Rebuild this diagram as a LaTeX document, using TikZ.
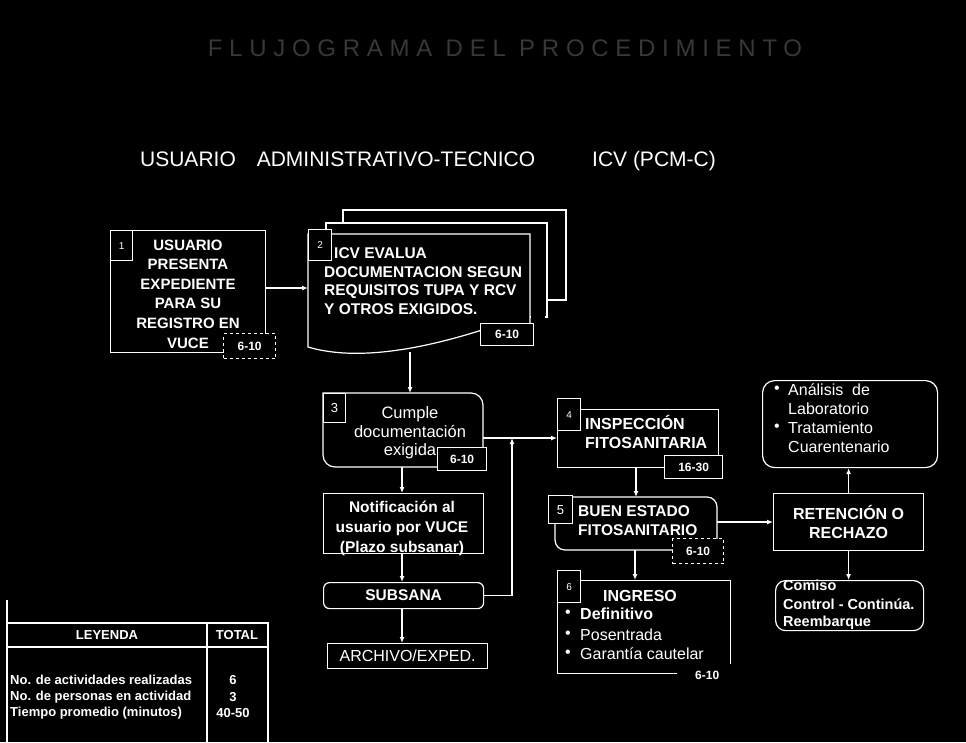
\documentclass[tikz,border=0pt]{standalone}
\usepackage{fontspec}
\setmainfont{Liberation Sans}
\usetikzlibrary{arrows.meta}
\tikzset{
  ln/.style={draw=white, line width=1.2pt},
  area/.style={inner sep=0pt, anchor=north west},
  numbox/.style={draw=white, fill=black, line width=1.2pt, text=white, inner sep=0pt, anchor=north west, font=\fontsize{13}{13}\selectfont},
  tbox/.style={draw=white, fill=black, line width=1.2pt, text=white, inner sep=0pt, anchor=north west, font=\bfseries\fontsize{12}{12}\selectfont},
  wtxt/.style={text=white, inner sep=0pt},
  bt/.style={wtxt, font=\bfseries\fontsize{15}{19}\selectfont},
  rt/.style={wtxt, font=\fontsize{16}{19}\selectfont},
  hdr/.style={wtxt, anchor=base, font=\fontsize{21}{21}\selectfont},
  lg/.style={wtxt, font=\bfseries\fontsize{13}{13}\selectfont},
  arr/.style={draw=white, line width=1.2pt, -{Latex[length=6pt,width=5pt]}},
}
\begin{document}
\begin{tikzpicture}[x=1pt,y=-1pt]
\fill[black] (0,0) rectangle (966,742);
\useasboundingbox (0,0) rectangle (966,742);

% title (faint)
\node[wtxt, text=white!22!black, font=\fontsize{24}{24}\selectfont\addfontfeatures{LetterSpace=28}] (title) at (505,48) {FLUJOGRAMA DEL PROCEDIMIENTO};

% headers
\node[hdr] (h1) at (188,166) {USUARIO};
\node[hdr] (h2) at (396,166) {ADMINISTRATIVO-TECNICO};
\node[hdr] (h3) at (654,166) {ICV (PCM-C)};

% node 1
\node[area, ln, minimum width=155pt, minimum height=122pt] (n1) at (110,230) {};
\node[wtxt, font=\bfseries\fontsize{15}{19.6}\selectfont, align=center] (t1) at (188,294) {USUARIO\\PRESENTA\\EXPEDIENTE\\PARA SU\\REGISTRO EN\\VUCE};
\node[numbox, minimum width=22pt, minimum height=30pt, font=\fontsize{10}{10}\selectfont] (k1) at (110,230) {1};
\node[tbox, dashed, minimum width=52pt, minimum height=25pt] (d1) at (223,333) {6-10};

% node 2 (stacked documents)
\draw[ln] (343,223) |- (566,210) |- (547,300);
\draw[ln] (326,234) |- (547,223) |- (530,317);
\node[area, minimum width=222pt, minimum height=118pt] (n2) at (308,234) {};
\node[wtxt, anchor=west, align=left, font=\bfseries\fontsize{15.5}{18.5}\selectfont] (t2) at (324,281) {\hspace{10pt}ICV EVALUA\\DOCUMENTACION SEGUN\\REQUISITOS TUPA Y RCV\\Y OTROS EXIGIDOS.};
\fill[black] (530.6,236) rectangle (545,322);
\draw[ln] (530,324) -- (530,234) -- (308,234) -- (308,347) .. controls (345,358) and (400,356) .. (482,330);
\node[numbox, minimum width=23pt, minimum height=31pt, font=\fontsize{10}{10}\selectfont] (k2) at (308,229) {2};
\node[tbox, minimum width=53pt, minimum height=22pt] (d2) at (480,323) {6-10};

% node 3
\node[area, minimum width=160pt, minimum height=74pt] (n3) at (323,393) {};
\draw[ln] (323,393) -- (471,393) to[out=0,in=90] (483,405) -- (483,467) -- (335,467) to[out=180,in=-90] (323,455) -- cycle;
\node[numbox, minimum width=22pt, minimum height=29pt] (k3) at (323,393) {3};
\node[rt, font=\fontsize{16.5}{18.5}\selectfont, align=center] (t3) at (410,433) {Cumple\\documentación\\exigida};
\node[tbox, minimum width=49pt, minimum height=23pt] (d3) at (437,447) {6-10};

% notification
\node[area, ln, minimum width=160pt, minimum height=60pt] (nt) at (323,493) {};
\node[bt, align=center, font=\bfseries\fontsize{15.5}{20}\selectfont] (tnt) at (402,528) {Notificación al\\usuario por VUCE\\(Plazo subsanar)};

% subsana
\node[area, ln, rounded corners=6pt, minimum width=160pt, minimum height=26pt, text=white, font=\bfseries\fontsize{15.5}{15.5}\selectfont] (sub) at (323,582) {SUBSANA};

% archivo
\node[area, ln, minimum width=160pt, minimum height=25pt, text=white, font=\fontsize{16}{16}\selectfont] (arch) at (327,643) {ARCHIVO/EXPED.};

% node 4
\node[area, ln, minimum width=161pt, minimum height=58pt] (n4) at (557,409) {};
\node[numbox, minimum width=23pt, minimum height=32pt, font=\fontsize{10}{10}\selectfont] (k4) at (557,398) {4};
\node[tbox, minimum width=58pt, minimum height=23pt] (d4) at (664,455) {16-30};
\node[bt, anchor=west, align=left, font=\bfseries\fontsize{16}{19}\selectfont] (t4) at (585,432) {INSPECCIÓN\\FITOSANITARIA};

% node 5
\node[area, minimum width=162pt, minimum height=53pt] (n5) at (555,497) {};
\draw[ln] (555,497) -- (707,497) to[out=0,in=90] (717,507) -- (717,550) -- (565,550) to[out=180,in=-90] (555,540) -- cycle;
\node[numbox, minimum width=24pt, minimum height=28pt] (k5) at (548,495) {5};
\node[tbox, dashed, minimum width=51pt, minimum height=25pt] (d5) at (672,538) {6-10};
\node[bt, anchor=west, align=left, font=\bfseries\fontsize{15.5}{19}\selectfont] (t5) at (578,521) {BUEN ESTADO\\FITOSANITARIO};

% retencion
\node[area, ln, minimum width=150pt, minimum height=57pt, text=white, align=center, font=\bfseries\fontsize{16}{19}\selectfont] (ret) at (773,493) {RETENCIÓN O\\RECHAZO};

% laboratorio
\node[area, ln, rounded corners=12pt, minimum width=175pt, minimum height=87pt] (lab) at (762,380) {};
\node[rt] (b1) at (777,390) {•};
\node[rt] (b2) at (777,428) {•};
\node[rt, anchor=west] (l1) at (788,390) {Análisis \ de};
\node[rt, anchor=west] (l2) at (788,409) {Laboratorio};
\node[rt, anchor=west] (l3) at (788,428) {Tratamiento};
\node[rt, anchor=west] (l4) at (788,447) {Cuarentenario};

% control
\node[area, ln, rounded corners=10pt, minimum width=148pt, minimum height=50pt] (ctrl) at (775,580) {};
\node[bt, anchor=west, font=\bfseries\fontsize{14.5}{14.5}\selectfont] (c1) at (783,585) {Comiso};
\node[bt, anchor=west, font=\bfseries\fontsize{14.5}{14.5}\selectfont] (c2) at (783,604) {Control - Continúa.};
\node[bt, anchor=west, font=\bfseries\fontsize{14.5}{14.5}\selectfont] (c3) at (783,623) {Reembarque};

% node 6
\node[area, ln, minimum width=173pt, minimum height=93pt] (n6) at (557,580) {};
\node[numbox, minimum width=23pt, minimum height=32pt, font=\fontsize{10}{10}\selectfont] (k6) at (557,570) {6};
\node[area, fill=black, minimum width=60pt, minimum height=22pt, text=white, font=\bfseries\fontsize{12}{12}\selectfont] (d6) at (677,664) {6-10};
\node[bt, font=\bfseries\fontsize{16}{16}\selectfont] (t6) at (640,596) {INGRESO};
\node[rt] (g1) at (568,614) {•};
\node[rt] (g2) at (568,635) {•};
\node[rt] (g3) at (568,654) {•};
\node[bt, anchor=west, font=\bfseries\fontsize{16}{16}\selectfont] (i1) at (580,614) {Definitivo};
\node[rt, anchor=west] (i2) at (580,635) {Posentrada};
\node[rt, anchor=west] (i3) at (580,654) {Garantía cautelar};

% connectors
\coordinate (j) at (512,438);
\draw[arr] (n1.east |- 0,288) -- (n2.west |- 0,288);
\draw[arr] (n2.south -| 410,0) -- (n3.north -| 410,0);
\draw[arr] (n3.south -| 402,0) -- (nt.north -| 402,0);
\draw[arr] (nt.south -| 402,0) -- (sub.north -| 402,0);
\draw[arr] (sub.south -| 402,0) -- (arch.north -| 402,0);
\draw[arr] (sub.east) -| (j);
\draw[arr] (n3.east |- j) -- (n4.west |- j);
\draw[arr] (n4.south -| 636,0) -- (n5.north -| 636,0);
\draw[arr] (n5.south -| 635,0) -- (n6.north -| 635,0);
\draw[arr] (n5.east |- 0,522) -- (ret.west |- 0,522);
\draw[arr] (ret.north) -- (ret.north |- lab.south);
\draw[arr] (ret.south) -- (ret.south |- ctrl.north);

% legend
\draw[ln] (7,600) -- (7,742);
\draw[ln] (7,623) -- (268,623) -- (268,742);
\draw[ln] (207,623) -- (207,742);
\draw[ln] (7,647) -- (268,647);
\node[lg] (lh1) at (107,635) {LEYENDA};
\node[lg] (lh2) at (237,635) {TOTAL};
\node[lg, anchor=west] (r1) at (10,680) {No. de actividades realizadas};
\node[lg, anchor=west] (r2) at (10,697) {No. de personas en actividad};
\node[lg, anchor=west] (r3) at (10,713) {Tiempo promedio (minutos)};
\node[lg] (v1) at (233,680) {6};
\node[lg] (v2) at (233,697) {3};
\node[lg] (v3) at (233,713) {40-50};
\end{tikzpicture}
\end{document}
